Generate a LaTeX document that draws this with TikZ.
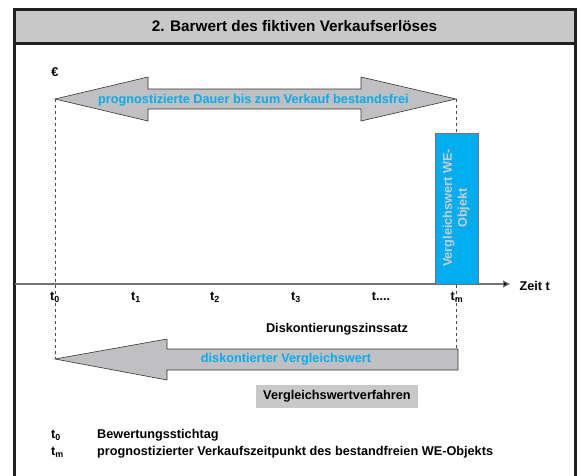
\documentclass[tikz,border=0pt]{standalone}
\usepackage{fontspec}
\setmainfont{Liberation Sans}
\usetikzlibrary{calc, arrows.meta}
\definecolor{cyanblue}{RGB}{0, 174, 239}
\definecolor{arrowgray}{RGB}{192, 192, 194}
\definecolor{bandgray}{RGB}{200, 200, 200}
\definecolor{framedark}{RGB}{35, 31, 32}

\begin{document}
\begin{tikzpicture}[x=1pt, y=-1pt, font=\bfseries\fontsize{12.7}{15}\selectfont]

  \useasboundingbox (0, 0) rectangle (582, 475);

  % frame with title band
  \fill[bandgray] (14, 9) rectangle (575, 43);
  \draw[line width=3pt, framedark] (14, 477) -- (14, 9) -- (575, 9) -- (575, 477);
  \draw[line width=3pt, framedark] (14, 43) -- (575, 43);
  \node (title) at (294.5, 26) {\fontsize{15.3}{18}\selectfont 2. Barwert des fiktiven Verkaufserlöses};

  \coordinate (t0) at (55, 284);
  \coordinate (tm) at (456, 284);

  % dashed guides
  \draw[dashed, thin, black!70] (55, 99) -- (55, 359);
  \draw[dashed, thin, black!70] (456, 99) -- (456, 349);

  \node (euro) at (55, 72) {€};

  % top double arrow
  \filldraw[fill=arrowgray, draw=black!80, line width=0.6pt]
    (55, 99) -- (148, 77) -- (148, 89) -- (361, 89) -- (361, 77) -- (456, 99)
    -- (361, 121) -- (361, 109) -- (148, 109) -- (148, 121) -- cycle;
  \node[cyanblue] (dauer) at (253.5, 100) {prognostizierte Dauer bis zum Verkauf bestandsfrei};

  % time axis
  \draw[line width=1.2pt, black!55, -{Triangle[length=7pt, width=7pt, fill=black]}] (15, 284) -- (510, 284);
  \node[anchor=west] (zeit) at (516, 286) {Zeit t};

  % comparison value bar
  \filldraw[fill=cyanblue, draw=black!55, line width=0.8pt] (435, 133) rectangle (478, 284);
  \node[rotate=90, align=center, text=black!20] (wert) at (456, 208)
    {Vergleichswert WE-\\Objekt};

  \foreach \x/\lab in {55/0, 136/1, 215/2, 296/3} {
    \node (t\lab) at (\x, 297) {t\textsubscript{\lab}};
  }
  \node (tdots) at (381, 296) {t....};
  \node (tmlab) at (457, 297) {t\textsubscript{m}};

  \node (zins) at (337, 329) {Diskontierungszinssatz};

  % bottom arrow
  \filldraw[fill=arrowgray, draw=black!80, line width=0.6pt]
    (55, 359) -- (167, 339) -- (167, 349) -- (458, 349) -- (458, 370)
    -- (167, 370) -- (167, 380) -- cycle;
  \node[cyanblue] (diskont) at (286, 359) {diskontierter Vergleichswert};

  \node[fill=bandgray, minimum width=162pt, minimum height=23pt] (verfahren) at (337, 396) {Vergleichswertverfahren};

  % legend
  \node[anchor=west, inner sep=0pt] (leg0) at (51, 435) {t\textsubscript{0}};
  \node[anchor=west, inner sep=0pt] (leg0txt) at (97, 435) {Bewertungsstichtag};
  \node[anchor=west, inner sep=0pt] (legm) at (51, 452) {t\textsubscript{m}};
  \node[anchor=west, inner sep=0pt] (legmtxt) at (97, 452) {prognostizierter Verkaufszeitpunkt des bestandfreien WE-Objekts};

\end{tikzpicture}
\end{document}
